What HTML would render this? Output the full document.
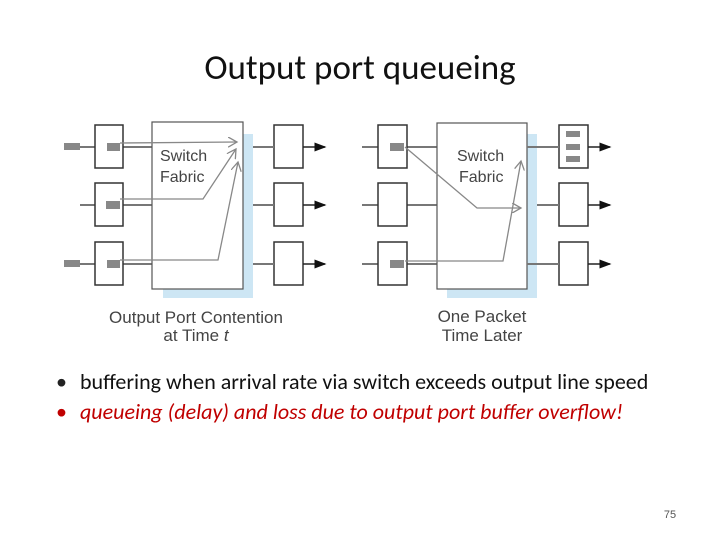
<!DOCTYPE html><html><head><style>body{margin:0;background:#fff;width:720px;height:540px;overflow:hidden;font-family:"Liberation Sans",sans-serif}</style></head><body>
<svg width="720" height="540" xmlns="http://www.w3.org/2000/svg" font-family="Liberation Sans, sans-serif">
<text x="360" y="79" font-size="35" text-anchor="middle" fill="#111" font-family="Calibri, Carlito, Liberation Sans, sans-serif">Output port queueing</text>
<defs><marker id="a" markerWidth="8" markerHeight="8" refX="7" refY="4" orient="auto"><path d="M0,1 L8,4 L0,7z" fill="#111"/></marker>
<marker id="g" markerWidth="8" markerHeight="8" refX="7" refY="4" orient="auto"><path d="M0,0 L7,4 L0,8" fill="none" stroke="#888" stroke-width="1"/></marker></defs>
<g stroke="#777" stroke-width="2">
<rect x="163" y="134" width="90" height="164" fill="#cde6f4" stroke="none"/>
<line x1="64" y1="147" x2="95" y2="147"/><line x1="80" y1="205" x2="95" y2="205"/><line x1="64" y1="264" x2="95" y2="264"/>
<line x1="123" y1="147" x2="152" y2="147"/><line x1="123" y1="205" x2="152" y2="205"/><line x1="123" y1="264" x2="152" y2="264"/>
<rect x="152" y="122" width="91" height="167" fill="#fff" stroke="#555" stroke-width="1.2"/>
<g fill="#fff" stroke="#333" stroke-width="1.5"><rect x="95" y="125" width="28" height="43"/><rect x="95" y="183" width="28" height="43"/><rect x="95" y="242" width="28" height="43"/>
<rect x="274" y="125" width="29" height="43"/><rect x="274" y="183" width="29" height="43"/><rect x="274" y="242" width="29" height="43"/></g>
<line x1="253" y1="147" x2="274" y2="147"/><line x1="253" y1="205" x2="274" y2="205"/><line x1="253" y1="264" x2="274" y2="264"/>
<g stroke="#222" stroke-width="1.5"><line x1="303" y1="147" x2="325" y2="147" marker-end="url(#a)"/><line x1="303" y1="205" x2="325" y2="205" marker-end="url(#a)"/><line x1="303" y1="264" x2="325" y2="264" marker-end="url(#a)"/></g>
<g fill="#888" stroke="none"><rect x="64" y="143" width="16" height="7"/><rect x="64" y="260" width="16" height="7"/><rect x="107" y="143" width="13" height="8"/><rect x="106" y="201" width="14" height="8"/><rect x="107" y="260" width="13" height="8"/></g>
<g fill="none" stroke="#888" stroke-width="1.3"><path d="M120 143 L237 142" marker-end="url(#g)"/><path d="M120 199 L203 199 L236 149" marker-end="url(#g)"/><path d="M120 260 L218 260 L238 162" marker-end="url(#g)"/></g>
<rect x="447" y="134" width="90" height="164" fill="#cde6f4" stroke="none"/>
<line x1="362" y1="147" x2="378" y2="147"/><line x1="362" y1="205" x2="378" y2="205"/><line x1="362" y1="264" x2="378" y2="264"/>
<line x1="407" y1="147" x2="437" y2="147"/><line x1="407" y1="205" x2="437" y2="205"/><line x1="407" y1="264" x2="437" y2="264"/>
<rect x="437" y="123" width="90" height="166" fill="#fff" stroke="#555" stroke-width="1.2"/>
<g fill="#fff" stroke="#333" stroke-width="1.5"><rect x="378" y="125" width="29" height="43"/><rect x="378" y="183" width="29" height="43"/><rect x="378" y="242" width="29" height="43"/>
<rect x="559" y="125" width="29" height="43"/><rect x="559" y="183" width="29" height="43"/><rect x="559" y="242" width="29" height="43"/></g>
<line x1="527" y1="147" x2="559" y2="147"/><line x1="537" y1="205" x2="559" y2="205"/><line x1="527" y1="264" x2="559" y2="264"/>
<g stroke="#222" stroke-width="1.5"><line x1="588" y1="147" x2="610" y2="147" marker-end="url(#a)"/><line x1="588" y1="205" x2="610" y2="205" marker-end="url(#a)"/><line x1="588" y1="264" x2="610" y2="264" marker-end="url(#a)"/></g>
<g fill="#888" stroke="none"><rect x="390" y="143" width="14" height="8"/><rect x="390" y="260" width="14" height="8"/><rect x="566" y="131" width="14" height="6"/><rect x="566" y="144" width="14" height="6"/><rect x="566" y="156" width="14" height="6"/></g>
<g fill="none" stroke="#888" stroke-width="1.3"><path d="M405 147 L477 208 L521 208" marker-end="url(#g)"/><path d="M405 261 L503 261 L521 161" marker-end="url(#g)"/></g>
</g>
<g fill="#444" font-size="16"><text x="160" y="161">Switch</text><text x="160" y="182">Fabric</text><text x="457" y="161">Switch</text><text x="459" y="182">Fabric</text>
<g text-anchor="middle" font-size="17"><text x="196" y="323">Output Port Contention</text><text x="196" y="341">at Time <tspan font-style="italic">t</tspan></text><text x="482" y="322">One Packet</text><text x="482" y="341">Time Later</text></g></g>
<g font-size="22" font-family="Calibri, Carlito, Liberation Sans, sans-serif"><text x="56" y="389" fill="#222">•</text><text x="80" y="389" fill="#111">buffering when arrival rate via switch exceeds output line speed</text>
<text x="56" y="419" fill="#c00000">•</text><text x="80" y="419" fill="#c00000" font-style="italic">queueing (delay) and loss due to output port buffer overflow!</text></g>
<text x="670" y="518" font-size="11" text-anchor="middle" fill="#555">75</text>
</svg></body></html>
